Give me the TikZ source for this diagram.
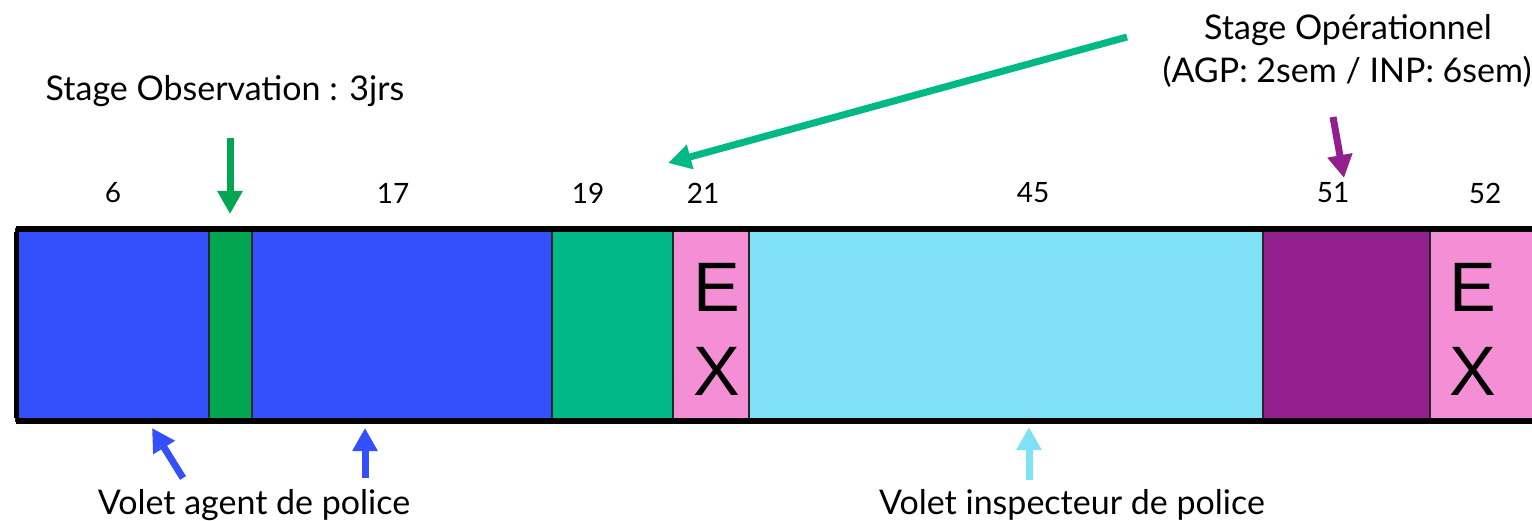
\documentclass[tikz,border=0pt]{standalone}
\usepackage{fontspec}
\setmainfont{Lato}
\newfontfamily\exfont{Liberation Sans}
\usetikzlibrary{arrows.meta}

\definecolor{agentblue}{RGB}{51,80,252}
\definecolor{obsgreen}{RGB}{2,165,81}
\definecolor{opteal}{RGB}{0,185,135}
\definecolor{expink}{RGB}{244,143,214}
\definecolor{inspcyan}{RGB}{127,225,246}
\definecolor{oppurple}{RGB}{146,31,142}

\begin{document}
\begin{tikzpicture}[x=1pt,y=-1pt,
  seg/.style={draw=black!85, line width=2pt, inner sep=0pt, outer sep=0pt,
              anchor=north west, minimum height=192pt},
  num/.style={font=\fontsize{28}{30}\selectfont, inner sep=0pt},
  lab/.style={font=\fontsize{34}{40}\selectfont, inner sep=0pt, anchor=base},
  exl/.style={font=\exfont\fontsize{70}{70}\selectfont, inner sep=0pt},
  pointer/.style={line width=7pt, -{Triangle[width=24pt,length=23pt]}}
]
\useasboundingbox (0,0) rectangle (1532,521);

% timeline bar, running off the right edge
\begin{scope}
\clip (0,0) rectangle (1532,521);
\node[seg, fill=agentblue, minimum width=193pt] (s1) at (16,229) {};
\node[seg, fill=obsgreen,  minimum width=43pt]  (s2) at (s1.north east) {};
\node[seg, fill=agentblue, minimum width=300pt] (s3) at (s2.north east) {};
\node[seg, fill=opteal,    minimum width=121pt] (s4) at (s3.north east) {};
\node[seg, fill=expink,    minimum width=76pt]  (s5) at (s4.north east) {};
\node[seg, fill=inspcyan,  minimum width=514pt] (s6) at (s5.north east) {};
\node[seg, fill=oppurple,  minimum width=167pt] (s7) at (s6.north east) {};
\node[seg, fill=expink,    minimum width=130pt] (s8) at (s7.north east) {};
\draw[line width=6pt] (s1.north west) -- (s8.north east);
\draw[line width=6pt] (s1.south west) -- (s8.south east);
\draw[line width=5pt] ([yshift=-3pt]s1.north west) -- ([yshift=3pt]s1.south west);
\end{scope}

% exam letters
\node[exl] (e1) at (717,287) {E};
\node[exl] (x1) at (717,371) {X};
\node[exl] (e2) at (1473,287) {E};
\node[exl] (x2) at (1473,371) {X};

% week numbers
\node[num] (n6)  at (113,193)  {6};
\node[num] (n17) at (393,193)  {17};
\node[num] (n19) at (588,193)  {19};
\node[num] (n21) at (703,193)  {21};
\node[num] (n45) at (1033,193) {45};
\node[num] (n51) at (1333,193) {51};
\node[num] (n52) at (1485,193) {52};

% labels
\node[lab] (obs) at (225,101) {Stage Observation : 3jrs};
\node[lab] (op1) at (1348,40) {Stage Opérationnel};
\node[lab] (op2) at (1347,83) {(AGP: 2sem / INP: 6sem)};
\node[lab] (agent) at (254,514) {Volet agent de police};
\node[lab] (insp)  at (1072,514) {Volet inspecteur de police};

% arrow ends
\coordinate (gA) at (230,138);  \coordinate (gB) at (230,214);
\coordinate (tA) at (1127,37);  \coordinate (tB) at (668,163);
\coordinate (pA) at (1333,117); \coordinate (pB) at (1344,178);
\coordinate (b1A) at (183,478); \coordinate (b1B) at (152,428);
\coordinate (b2A) at (365,478); \coordinate (b2B) at (365,428);
\coordinate (cA) at (1029,480); \coordinate (cB) at (1029,427);

\draw[pointer, obsgreen] (gA) -- (gB);
\draw[pointer, opteal] (tA) -- (tB);
\draw[pointer, oppurple] (pA) -- (pB);
\draw[pointer, agentblue] (b1A) -- (b1B);
\draw[pointer, agentblue] (b2A) -- (b2B);
\draw[pointer, inspcyan] (cA) -- (cB);
\end{tikzpicture}
\end{document}
